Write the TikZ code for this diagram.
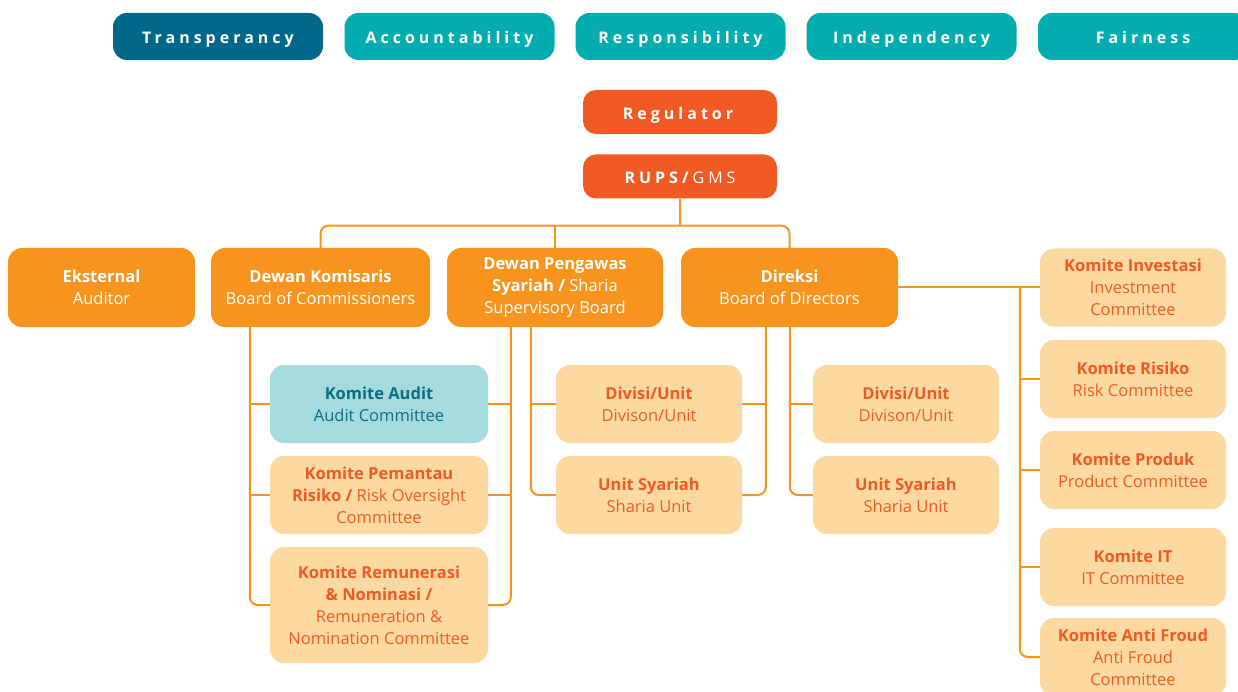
\documentclass[tikz,border=0pt]{standalone}
\usepackage{xcolor}
\usepackage{fontspec}
\setmainfont{Open Sans}
\usetikzlibrary{positioning}

\definecolor{darkteal}{HTML}{02688A}
\definecolor{tealc}{HTML}{03ACAF}
\definecolor{redor}{HTML}{F15A24}
\definecolor{orangec}{HTML}{F7941E}
\definecolor{lightor}{HTML}{FDD9A2}
\definecolor{lightteal}{HTML}{A5DBDC}
\definecolor{audittext}{HTML}{0B6E85}

\newcommand{\spaced}{\addfontfeature{LetterSpace=25}}

\begin{document}
\begin{tikzpicture}
[x=1pt, y=-1pt,
 font=\fontsize{16.5}{22}\selectfont,
 pill/.style={fill=tealc, text=white, rounded corners=14pt, minimum width=210pt,
   minimum height=47pt, inner sep=0pt, text height=15pt, text depth=0pt,
   font=\fontsize{16}{18}\selectfont\bfseries\spaced},
 topbox/.style={fill=redor, text=white, rounded corners=13pt, minimum width=194pt,
   minimum height=44pt, inner sep=0pt, text height=14.5pt, text depth=0pt,
   font=\fontsize{16}{18}\selectfont\spaced},
 mainbox/.style={fill=orangec, text=white, rounded corners=14pt, minimum height=79pt,
   inner sep=0pt, align=center},
 subbox/.style={fill=lightor, text=redor, rounded corners=14pt, minimum width=186pt,
   minimum height=78pt, inner sep=0pt, align=center},
 link/.style={draw=orangec, line width=2pt, rounded corners=8pt}]
  \clip (0,0) rectangle (1238,692);
  \fill[white] (0,0) rectangle (1238,692);

  % values
  \node[pill, fill=darkteal] (transp) at (218,36.5) {Transperancy};
  \node[pill] (account) at (449.5,36.5) {Accountability};
  \node[pill] (respons) at (680.5,36.5) {Responsibility};
  \node[pill] (independ) at (911.5,36.5) {Independency};
  \node[pill] (fair) at (1143,36.5) {Fairness};

  % top
  \node[topbox] (regulator) at (680,112) {\textbf{Regulator}};
  \node[topbox] (rups) at (680,176.5) {\textbf{RUPS/}GMS};

  % boards
  \node[mainbox, minimum width=187pt] (eksternal) at (101.5,287.5)
    {\textbf{Eksternal}\\Auditor};
  \node[mainbox, minimum width=219pt] (komisaris) at (320.5,287.5)
    {\textbf{Dewan Komisaris}\\Board of Commissioners};
  \node[mainbox, minimum width=216pt] (pengawas) at (555,287.5)
    {\textbf{Dewan Pengawas}\\\textbf{Syariah /} Sharia\\Supervisory Board};
  \node[mainbox, minimum width=217pt] (direksi) at (789.5,287.5)
    {\textbf{Direksi}\\Board of Directors};

  % committees of the board
  \node[subbox, fill=lightteal, text=audittext, minimum width=218pt] (audit) at (379,404)
    {\textbf{Komite Audit}\\Audit Committee};
  \node[subbox, minimum width=218pt] (pemantau) at (379,495)
    {\textbf{Komite Pemantau}\\\textbf{Risiko /} Risk Oversight\\Committee};
  \node[subbox, minimum width=218pt, minimum height=116pt] (remun) at (379,605)
    {\textbf{Komite Remunerasi}\\\textbf{\& Nominasi /}\\Remuneration \&\\Nomination Committee};

  % units
  \node[subbox] (divisi1) at (649,404) {\textbf{Divisi/Unit}\\Divison/Unit};
  \node[subbox] (syariah1) at (649,495) {\textbf{Unit Syariah}\\Sharia Unit};
  \node[subbox] (divisi2) at (906,404) {\textbf{Divisi/Unit}\\Divison/Unit};
  \node[subbox] (syariah2) at (906,495) {\textbf{Unit Syariah}\\Sharia Unit};

  % committees of the directors
  \node[subbox] (investasi) at (1133,287.5) {\textbf{Komite Investasi}\\Investment\\Committee};
  \node[subbox] (risiko) at (1133,379) {\textbf{Komite Risiko}\\Risk Committee};
  \node[subbox] (produk) at (1133,470) {\textbf{Komite Produk}\\Product Committee};
  \node[subbox] (it) at (1133,567) {\textbf{Komite IT}\\IT Committee};
  \node[subbox] (antifroud) at (1133,657) {\textbf{Komite Anti Froud}\\Anti Froud\\Committee};

  % connectors
  \coordinate (hub) at ([yshift=-27]rups.south);
  \draw[link] (rups.south) -- (hub);
  \draw[link] (komisaris.north) |- (direksi.north |- hub) -- (direksi.north);
  \draw[link] (pengawas.north) -- (pengawas.north |- hub);

  \coordinate (kl) at ([xshift=39]komisaris.south west);
  \draw[link] (kl) |- (remun.west);
  \draw[link] (audit.west) -- (audit.west -| kl);
  \draw[link] (pemantau.west) -- (pemantau.west -| kl);

  \coordinate (pl) at ([xshift=64]pengawas.south west);
  \draw[link] (pl) |- (remun.east);
  \draw[link] (audit.east) -- (audit.east -| pl);
  \draw[link] (pemantau.east) -- (pemantau.east -| pl);

  \coordinate (pr) at ([xshift=84]pengawas.south west);
  \draw[link] (pr) |- (syariah1.west);
  \draw[link] (divisi1.west) -- (divisi1.west -| pr);

  \coordinate (dl) at ([xshift=85]direksi.south west);
  \draw[link] (dl) |- (syariah1.east);
  \draw[link] (divisi1.east) -- (divisi1.east -| dl);

  \coordinate (dr) at ([xshift=109]direksi.south west);
  \draw[link] (dr) |- (syariah2.west);
  \draw[link] (divisi2.west) -- (divisi2.west -| dr);

  \coordinate (kv) at ([xshift=-20]investasi.west);
  \draw[link] (direksi.east) -- (investasi.west);
  \draw[link] (kv) |- (antifroud.west);
  \foreach \k in {risiko, produk, it}
    \draw[link] (\k.west) -- (\k.west -| kv);
\end{tikzpicture}
\end{document}
